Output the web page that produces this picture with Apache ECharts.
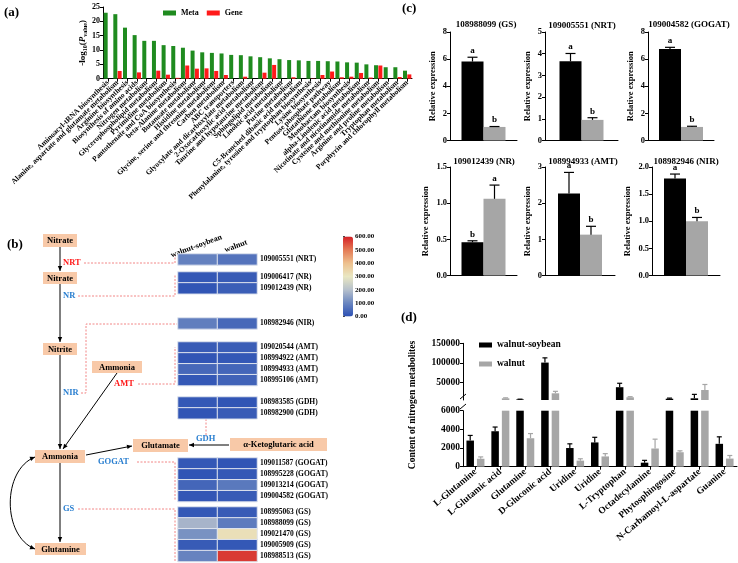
<!DOCTYPE html>
<html>
<head>
<meta charset="utf-8">
<script src="https://cdn.jsdelivr.net/npm/echarts@6/dist/echarts.min.js"></script>
<style>
  html, body { margin: 0; padding: 0; background: #fff; }
  #chart { width: 738px; height: 563px; }
</style>
</head>
<body>
<div id="chart"></div>
<script>
// ---------- panel (a): KEGG enrichment ----------
const pathways = [
  'Aminoacyl-tRNA biosynthesis', 'Alanine, aspartate and glutamate metabolism', 'Arginine biosynthesis',
  'Biosynthesis of amino acids', 'Nitrogen metabolism', 'Glycerophospholipid metabolism',
  'Pyrimidine metabolism', 'Pantothenate and CoA biosynthesis', 'beta-Alanine metabolism',
  'Butanoate metabolism', 'Histidine metabolism', 'Glycine, serine and threonine metabolism',
  'Carbon metabolism', 'ABC transporters', 'Glyoxylate and dicarboxylate metabolism',
  '2-Oxocarboxylic acid metabolism', 'Taurine and hypotaurine metabolism', 'Sphingolipid metabolism',
  'Linoleic acid metabolism', 'Purine metabolism', 'C5-Branched dibasic acid metabolism',
  'Phenylalanine, tyrosine and tryptophan biosynthesis', 'Lysine biosynthesis', 'Pentose phosphate pathway',
  'Glutathione metabolism', 'Monobactam biosynthesis', 'alpha-Linolenic acid metabolism',
  'Nicotinate and nicotinamide metabolism', 'Cysteine and methionine metabolism',
  'Arginine and proline metabolism', 'Tryptophan metabolism', 'Porphyrin and chlorophyll metabolism'
];
const metaVals = [23, 22.5, 17.8, 15.2, 13.2, 13.2, 11.7, 11.4, 10.8, 9.8, 9.2, 9.0, 8.8, 8.3, 8.2, 7.8,
  7.5, 7.1, 6.8, 6.5, 6.4, 6.2, 6.2, 6.1, 6.0, 5.7, 5.6, 5.0, 4.7, 4.0, 4.0, 2.8];
const geneVals = [0, 2.7, 0, 2.2, 0, 2.8, 1.4, 0.3, 4.6, 3.5, 3.6, 2.7, 1.3, 0, 0.7, 0,
  2.1, 4.8, 0, 0.5, 0, 0.1, 1.3, 2.5, 0.5, 0.7, 2.0, 0.4, 4.6, 0, 0.6, 1.5];

// ---------- panel (b): heatmap ----------
const hmColumns = ['walnut-soybean', 'walnut'];
const hmGenes = [
  '109005551 (NRT)',
  '109006417 (NR)', '109012439 (NR)',
  '108982946 (NIR)',
  '109020544 (AMT)', '108994922 (AMT)', '108994933 (AMT)', '108995106 (AMT)',
  '108983585 (GDH)', '108982900 (GDH)',
  '109011587 (GOGAT)', '108995228 (GOGAT)', '109013214 (GOGAT)', '109004582 (GOGAT)',
  '108995063 (GS)', '108988099 (GS)', '109021470 (GS)', '109005909 (GS)', '108988513 (GS)'
];
const hmWalnutSoybean = [90, 15, 10, 85, 20, 10, 45, 15, 15, 10, 15, 10, 40, 12, 15, 180, 120, 20, 95];
const hmWalnut = [65, 20, 25, 45, 25, 15, 40, 35, 10, 20, 10, 15, 75, 20, 20, 80, 320, 15, 570];
const hmGroupSizes = [1, 2, 1, 4, 2, 4, 5];
const hmGroupTops = [254, 272, 318, 342, 397, 458, 507];

// ---------- panel (c): qRT-PCR ----------
const qGenes = ['108988099 (GS)', '109005551 (NRT)', '109004582 (GOGAT)',
  '109012439 (NR)', '108994933 (AMT)', '108982946 (NIR)'];
const qWs = [5.82, 3.65, 6.75, 0.46, 2.27, 1.79];
const qWsErr = [0.32, 0.36, 0.12, 0.02, 0.58, 0.08];
const qW = [1.0, 0.95, 1.0, 1.06, 1.13, 1.0];
const qWErr = [0.03, 0.1, 0.05, 0.19, 0.23, 0.07];
const qMax = [8, 5, 8, 1.5, 3, 2];
const qStep = [2, 1, 2, 0.5, 1, 0.5];
const qLetWs = ['a', 'a', 'a', 'b', 'a', 'a'];
const qLetW = ['b', 'b', 'b', 'a', 'b', 'b'];

// ---------- panel (d): nitrogen metabolites ----------
const metabolites = ['L-Glutamine', 'L-Glutamic acid', 'Glutamine', 'D-Gluconic acid', 'Uridine', 'Uridine',
  'L-Tryptophan', 'Octadecylamine', 'Phytosphingosine', 'N-Carbamoyl-L-aspartate', 'Guanine'];
const wsContent = [2800, 3800, 7500, 101000, 2000, 2600, 38500, 430, 9300, 10300, 2450];
const wsErr = [550, 450, 600, 12000, 450, 550, 10000, 250, 1500, 10000, 750];
const wContent = [850, 10300, 3050, 23000, 650, 1100, 12900, 1950, 1550, 31400, 870];
const wErr = [200, 1200, 500, 5000, 200, 300, 1500, 1000, 150, 14000, 330];
const BREAK = 6000;

const FF = 'Liberation Serif';
const font = (s) => 'bold ' + s + 'px "Liberation Serif"';
const BLACK = '#000';
const GRAY = '#a6a6a6';
const txt = (s, extra) => Object.assign({ fontFamily: FF, fontWeight: 'bold', fontSize: s, color: '#000' }, extra || {});
const plain = (v) => String(v);

const chart = echarts.init(document.getElementById('chart'));

const grid = [], xAxis = [], yAxis = [], series = [], titles = [];
const blackLine = { show: true, lineStyle: { color: '#000', width: 1 } };

function addGrid(g) { grid.push(g); return grid.length - 1; }

// error bars (+ optional letters) drawn through the axes
function errorSeries(ax, vals, errs, offset, cap, color, letters, lo, hi) {
  return {
    type: 'custom', xAxisIndex: ax, yAxisIndex: ax, z: 5, silent: true,
    data: vals.map((v, i) => [i, v, errs[i]]),
    renderItem(params, api) {
      const i = api.value(0), v = api.value(1), e = api.value(2);
      if (v < lo || v > hi) return null;
      const b = api.coord([i, v]), t = api.coord([i, v + e]);
      const x = b[0] + offset;
      const kids = [
        { type: 'line', shape: { x1: x, y1: b[1], x2: x, y2: t[1] }, style: { stroke: color, lineWidth: 1.2 } },
        { type: 'line', shape: { x1: x - cap, y1: t[1], x2: x + cap, y2: t[1] }, style: { stroke: color, lineWidth: 1.2 } }
      ];
      if (letters) {
        kids.push({ type: 'text', style: { text: letters[params.dataIndex], x: x, y: t[1] - 2,
          font: font(9), fill: '#000', textAlign: 'center', textVerticalAlign: 'bottom', align: 'center', verticalAlign: 'bottom' } });
      }
      return { type: 'group', children: kids };
    }
  };
}

// ----- (a)
{
  const g = addGrid({ left: 103, top: 7, width: 309, height: 71.7 });
  xAxis.push({ type: 'category', gridIndex: g, data: pathways, axisLine: blackLine,
    axisTick: { show: true, alignWithLabel: true, length: 3, lineStyle: { color: '#000' } },
    axisLabel: txt(7.5, { interval: 0, rotate: 44, margin: 3 }) });
  yAxis.push({ type: 'value', gridIndex: g, min: 0, max: 25, interval: 5, axisLine: blackLine,
    axisTick: { show: true, length: 3, lineStyle: { color: '#000' } }, splitLine: { show: false },
    axisLabel: txt(8, { margin: 3 }),
    name: '{a|-log}{s|10}{a|(}{i|P}{s|value}{a|)}', nameLocation: 'middle', nameGap: 15,
    nameTextStyle: { rich: {
      a: txt(9), s: txt(6, { padding: [5, 0, 0, 0] }), i: txt(9, { fontStyle: 'italic' })
    } } });
  series.push({ type: 'bar', name: 'Meta', xAxisIndex: g, yAxisIndex: g, data: metaVals,
    barWidth: 4, barGap: '8%', itemStyle: { color: '#1f8b1f' } });
  series.push({ type: 'bar', name: 'Gene', xAxisIndex: g, yAxisIndex: g, data: geneVals,
    barWidth: 4, itemStyle: { color: '#ff1a1a' } });
}

// ----- (c)
const cLeft = [450, 545, 648, 450, 545, 652];
const cTop = [32, 32, 32, 167, 167, 167];
const cWidth = [67, 73, 66, 67, 70, 68];
const cTitleX = [481, 577, 684, 479, 578, 681];
const cTitleY = [15, 16, 15, 152, 152, 152];
const C_BAR = 22;
qGenes.forEach((name, k) => {
  const g = addGrid({ left: cLeft[k], top: cTop[k], width: cWidth[k], height: 108.5 });
  xAxis.push({ type: 'category', gridIndex: g, data: [''], axisLine: blackLine,
    axisTick: { show: false }, axisLabel: { show: false } });
  yAxis.push({ type: 'value', gridIndex: g, min: 0, max: qMax[k], interval: qStep[k], axisLine: blackLine,
    axisTick: { show: true, length: 3, lineStyle: { color: '#000' } }, splitLine: { show: false },
    axisLabel: txt(8.5, { margin: 3, formatter: (v) => qStep[k] < 1 ? v.toFixed(1) : String(v) }),
    name: 'Relative expression', nameLocation: 'middle', nameGap: qStep[k] < 1 ? 20 : 13,
    nameTextStyle: txt(8.5) });
  series.push({ type: 'bar', name: 'walnut-soybean', xAxisIndex: g, yAxisIndex: g, data: [qWs[k]],
    barWidth: C_BAR, barGap: '0%', itemStyle: { color: BLACK } });
  series.push({ type: 'bar', name: 'walnut', xAxisIndex: g, yAxisIndex: g, data: [qW[k]],
    barWidth: C_BAR, barGap: '0%', itemStyle: { color: GRAY } });
  series.push(errorSeries(g, [qWs[k]], [qWsErr[k]], -C_BAR / 2, 5, '#000', [qLetWs[k]], -Infinity, Infinity));
  series.push(errorSeries(g, [qW[k]], [qWErr[k]], C_BAR / 2, 5, '#000', [qLetW[k]], -Infinity, Infinity));
  titles.push({ text: name, left: cTitleX[k], top: cTitleY[k], textAlign: 'center', textStyle: txt(9) });
});

// ----- (d) broken axis: lower 0-6000, upper 6000-150000
const D_BAR = 7.5, D_GAP = 3;
const dOff = (D_BAR + D_GAP) / 2;
{
  const lo = addGrid({ left: 463, top: 410.7, width: 274, height: 56 });
  xAxis.push({ type: 'category', gridIndex: lo, data: metabolites, axisLine: blackLine,
    axisTick: { show: true, alignWithLabel: true, length: 3, lineStyle: { color: '#000' } },
    axisLabel: txt(9.5, { interval: 0, rotate: 40, margin: 4 }) });
  yAxis.push({ type: 'value', gridIndex: lo, min: 0, max: BREAK, interval: 2000, axisLine: blackLine,
    axisTick: { show: true, length: 3, lineStyle: { color: '#000' } }, splitLine: { show: false },
    axisLabel: txt(9.5, { margin: 3, formatter: plain }) });
  series.push({ type: 'bar', name: 'walnut-soybean', xAxisIndex: lo, yAxisIndex: lo, data: wsContent,
    barWidth: D_BAR, barGap: '40%', clip: true, itemStyle: { color: BLACK } });
  series.push({ type: 'bar', name: 'walnut', xAxisIndex: lo, yAxisIndex: lo, data: wContent,
    barWidth: D_BAR, barGap: '40%', clip: true, itemStyle: { color: GRAY } });
  series.push(errorSeries(lo, wsContent, wsErr, -dOff, 2.5, '#000', null, 0, BREAK));
  series.push(errorSeries(lo, wContent, wErr, dOff, 2.5, GRAY, null, 0, BREAK));

  const up = addGrid({ left: 463, top: 343.3, width: 274, height: 56.7 });
  xAxis.push({ type: 'category', gridIndex: up, data: metabolites, show: false });
  yAxis.push({ type: 'value', gridIndex: up, min: BREAK, max: 150000, axisLine: blackLine,
    axisTick: { show: true, length: 3, lineStyle: { color: '#000' }, customValues: [50000, 100000, 150000] },
    splitLine: { show: false },
    axisLabel: txt(9.5, { margin: 3, formatter: plain, customValues: [50000, 100000, 150000] }) });
  series.push({ type: 'bar', name: 'walnut-soybean', xAxisIndex: up, yAxisIndex: up,
    data: wsContent.map(v => v > BREAK ? v : '-'),
    barWidth: D_BAR, barGap: '40%', clip: true, itemStyle: { color: BLACK } });
  series.push({ type: 'bar', name: 'walnut', xAxisIndex: up, yAxisIndex: up,
    data: wContent.map(v => v > BREAK ? v : '-'),
    barWidth: D_BAR, barGap: '40%', clip: true, itemStyle: { color: GRAY } });
  series.push(errorSeries(up, wsContent, wsErr, -dOff, 2.5, '#000', null, BREAK + 1, Infinity));
  series.push(errorSeries(up, wContent, wErr, dOff, 2.5, GRAY, null, BREAK + 1, Infinity));
}

// ----- (b) heatmap groups
const heatIdx = [];
{
  let start = 0;
  hmGroupSizes.forEach((n, k) => {
    const genes = hmGenes.slice(start, start + n);
    const g = addGrid({ left: 178, top: hmGroupTops[k], width: 79, height: n * 10.9 });
    xAxis.push({ type: 'category', gridIndex: g, data: hmColumns, position: 'top',
      axisLine: { show: false }, axisTick: { show: false },
      axisLabel: k === 0 ? txt(8, { rotate: -20, margin: 4, interval: 0, align: 'center', verticalAlign: 'bottom' })
        : { show: false } });
    yAxis.push({ type: 'category', gridIndex: g, data: genes, inverse: true, position: 'right',
      axisLine: { show: false }, axisTick: { show: false }, axisLabel: txt(7.5, { margin: 3 }) });
    const data = [];
    genes.forEach((_, r) => {
      data.push([0, r, hmWalnutSoybean[start + r]]);
      data.push([1, r, hmWalnut[start + r]]);
    });
    heatIdx.push(series.length);
    series.push({ type: 'heatmap', xAxisIndex: g, yAxisIndex: g, data: data,
      itemStyle: { borderColor: '#dfe4ee', borderWidth: 1 } });
    start += n;
  });
}

// ----- colour bar axis
{
  const g = addGrid({ left: 343, top: 236.5, width: 10, height: 80 });
  xAxis.push({ type: 'value', gridIndex: g, show: false, min: 0, max: 1 });
  yAxis.push({ type: 'value', gridIndex: g, min: 0, max: 600, interval: 100, position: 'right',
    axisLine: { show: true, lineStyle: { color: '#444', width: 0.8 } },
    axisTick: { show: true, length: 2, lineStyle: { color: '#444' } }, splitLine: { show: false },
    axisLabel: txt(7, { margin: 2, formatter: (v) => v.toFixed(2) }) });
}

// ----- pathway diagram (panel b)
const PEACH = '#f8c9a8', RED = '#ff1a1a', BLUE = '#2a7fd0', DASH = '#f07878';
const boxes = [
  ['Nitrate', 43, 234, 34, 13], ['Nitrate', 43, 272, 34, 12], ['Nitrite', 43, 343, 34, 12],
  ['Ammonia', 92, 361, 50, 12], ['Ammonia', 35, 450, 50, 13], ['Glutamate', 133, 439, 55, 13],
  ['α-Ketoglutaric acid', 230, 438, 97, 13], ['Glutamine', 35, 543, 51, 12]
];
const enzymes = [
  ['NRT', 63, 263, RED], ['NR', 63, 296, BLUE], ['NIR', 63, 393, BLUE], ['AMT', 114, 384, RED],
  ['GDH', 196, 439, BLUE], ['GOGAT', 98, 462, BLUE], ['GS', 63, 509, BLUE]
];
const arrows = [
  [60, 247, 60, 271], [60, 284, 60, 342], [60, 355, 60, 449], [117, 373, 63, 449],
  [86, 455, 132, 446], [229, 445, 189, 445], [60, 463, 60, 542]
];
const connectors = [
  [[84, 263], [175, 263], [175, 255]],
  [[78, 296], [175, 296], [175, 274]],
  [[81, 393], [86, 393], [86, 324], [177, 324]],
  [[138, 384], [175, 384], [175, 347]],
  [[206, 419], [206, 437]],
  [[137, 462], [175, 462], [175, 501]],
  [[78, 509], [175, 509], [175, 562]]
];

function head(x0, y0, x1, y1) {
  const a = Math.atan2(y1 - y0, x1 - x0), L = 5, W = 2.2;
  const bx = x1 - L * Math.cos(a), by = y1 - L * Math.sin(a);
  return { type: 'polygon', shape: { points: [[x1, y1],
    [bx + W * Math.sin(a), by - W * Math.cos(a)], [bx - W * Math.sin(a), by + W * Math.cos(a)]] },
    style: { fill: '#000' } };
}
function label(text, x, y, size, color, align, rot) {
  return { type: 'text', x: x, y: y, rotation: rot || 0,
    style: { text: text, x: 0, y: 0, font: font(size), fill: color || '#000',
      textAlign: align || 'left', textVerticalAlign: 'middle', align: align || 'left', verticalAlign: 'middle' } };
}

const elements = [];
connectors.forEach(p => elements.push({ type: 'polyline', shape: { points: p },
  style: { stroke: DASH, lineWidth: 0.9, lineDash: [2, 1.5], fill: null } }));
arrows.forEach(([x0, y0, x1, y1]) => {
  elements.push({ type: 'line', shape: { x1: x0, y1: y0, x2: x1, y2: y1 }, style: { stroke: '#000', lineWidth: 1 } });
  elements.push(head(x0, y0, x1, y1));
});
elements.push({ type: 'bezierCurve', shape: { x1: 35, y1: 457, cpx1: 2, cpy1: 470, cpx2: 2, cpy2: 536, x2: 35, y2: 549 },
  style: { stroke: '#000', lineWidth: 1, fill: null } });
elements.push(head(2, 470, 35, 457));
elements.push(head(2, 536, 35, 549));
boxes.forEach(([t, x, y, w, h]) => {
  elements.push({ type: 'rect', shape: { x: x, y: y, width: w, height: h }, style: { fill: PEACH } });
  elements.push(label(t, x + w / 2, y + h / 2 + 0.5, 8.5, '#000', 'center'));
});
enzymes.forEach(([t, x, y, c]) => elements.push(label(t, x, y, 8.5, c, 'left')));
// panel letters and shared axis name
elements.push(label('(a)', 4, 13, 13));
elements.push(label('(b)', 7, 245, 13));
elements.push(label('(c)', 402, 9, 13));
elements.push(label('(d)', 401, 318, 13));
elements.push(label('Content of nitrogen metabolites', 413, 405, 9.5, '#000', 'center', Math.PI / 2));
// axis break marks
elements.push({ type: 'line', shape: { x1: 460, y1: 399, x2: 466, y2: 394 }, style: { stroke: '#000', lineWidth: 1 } });
elements.push({ type: 'line', shape: { x1: 460, y1: 409, x2: 466, y2: 404 }, style: { stroke: '#000', lineWidth: 1 } });

chart.setOption({
  animation: false,
  backgroundColor: '#fff',
  title: titles,
  grid: grid,
  xAxis: xAxis,
  yAxis: yAxis,
  legend: [
    { data: ['Meta', 'Gene'], left: 163, top: 9, itemWidth: 13, itemHeight: 5, itemGap: 8, padding: 0,
      icon: 'rect', textStyle: txt(8) },
    { data: ['walnut-soybean', 'walnut'], left: 479, top: 340, orient: 'vertical', itemWidth: 13, itemHeight: 5,
      itemGap: 9, padding: 0, icon: 'rect', textStyle: txt(9.5) }
  ],
  visualMap: {
    type: 'continuous', min: 0, max: 600, seriesIndex: heatIdx, left: 343, top: 236.5,
    itemWidth: 10, itemHeight: 80, calculable: false, padding: 0, hoverLink: false,
    inRange: { color: ['#2b50b4', '#6a86c0', '#b6c0cc', '#e9e7c2', '#edc08e', '#e47a55', '#d41f24'] }
  },
  graphic: { elements: elements },
  series: series
});
</script>
</body>
</html>
